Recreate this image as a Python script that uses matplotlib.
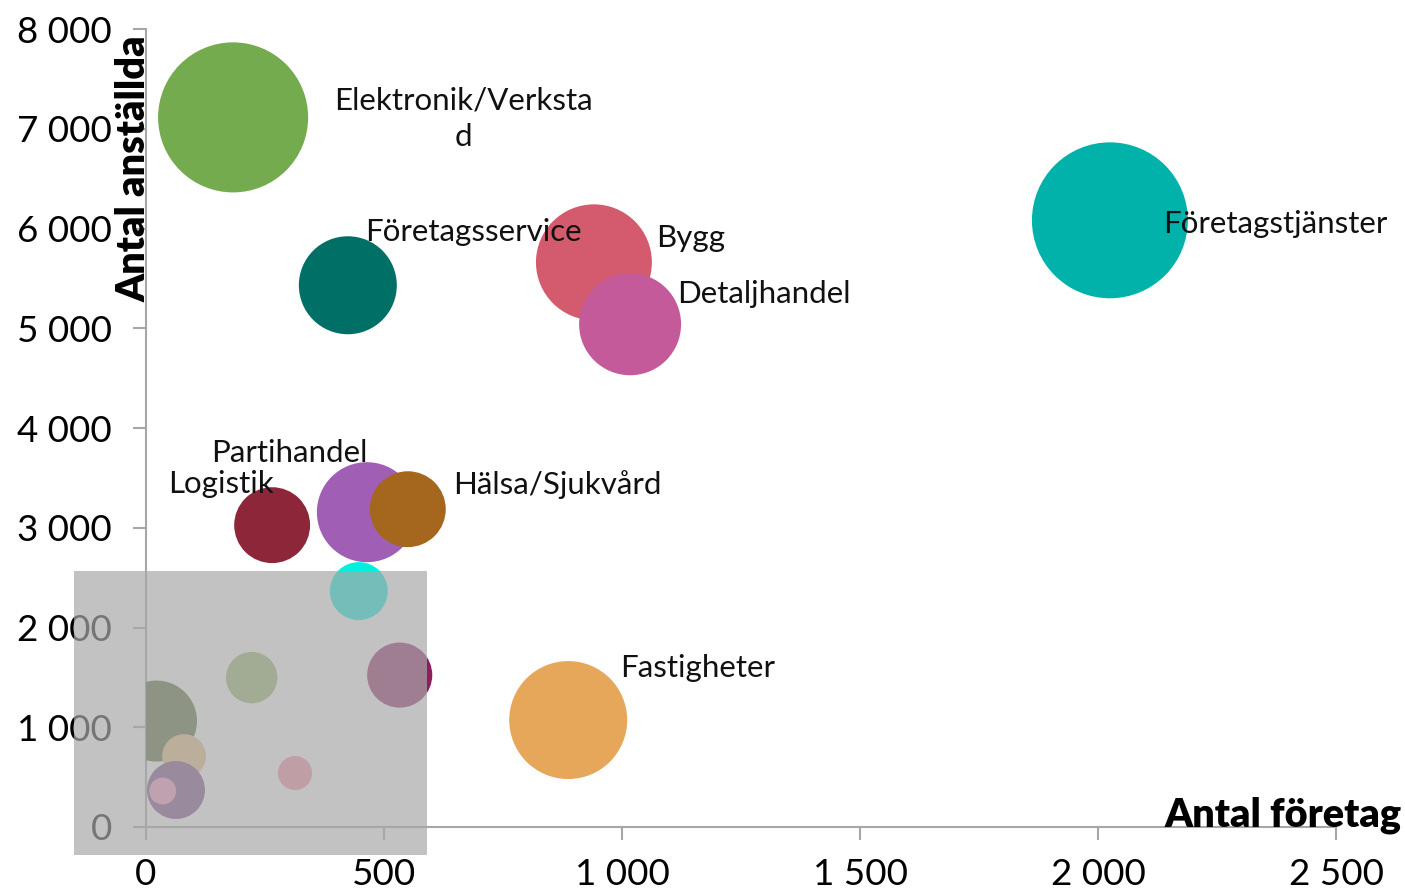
import matplotlib
matplotlib.use("Agg")
import matplotlib.pyplot as plt
from matplotlib.patches import Rectangle
from matplotlib.ticker import FuncFormatter

# ---- data ----
labels = ["Elektronik/Verksta\nd", "Företagsservice", "Bygg", "Detaljhandel",
          "Företagstjänster", "Logistik", "Partihandel", "Hälsa/Sjukvård",
          "Fastigheter", "", "", "", "", "", "", "", ""]
antal_foretag = [183, 424, 941, 1017, 2025, 265, 464, 550, 887,
                 447, 533, 222, 22, 80, 63, 35, 313]
antal_anstallda = [7114, 5431, 5661, 5040, 6082, 3026, 3156, 3186, 1072,
                   2365, 1523, 1498, 1062, 711, 371, 361, 541]
bubble_value = [56.3, 24.0, 33.6, 26.0, 60.8, 14.4, 25.0, 14.4, 34.8,
                8.4, 10.6, 6.6, 16.4, 4.8, 8.4, 1.8, 2.9]
colors = ["#75AB4F", "#006F66", "#D45B6E", "#C55A9A", "#00B2A9", "#8E263A",
          "#A05FB4", "#A5661E", "#E6A75A", "#00F0E0", "#8C1D5E", "#96B464",
          "#50672F", "#E9BE7F", "#784985", "#F793C1", "#F78CA0"]
x_ticks = [0, 500, 1000, 1500, 2000, 2500]
y_ticks = [0, 1000, 2000, 3000, 4000, 5000, 6000, 7000, 8000]

# label offsets in pixels (layout)
offsets = {
    0: (230, -1, "center", "center"),
    1: (17, 44, "left", "baseline"),
    2: (62, 15, "left", "baseline"),
    3: (47, 21, "left", "baseline"),
    4: (53, -13, "left", "baseline"),
    5: (-104, 32, "left", "baseline"),
    6: (-156, 50, "left", "baseline"),
    7: (45, 15, "left", "baseline"),
    8: (52, 43, "left", "baseline"),
}

W, H = 1405, 893
plt.rcParams['font.family'] = ['Lato', 'DejaVu Sans']
fig = plt.figure(figsize=(W / 100, H / 100), dpi=100)
ax = fig.add_axes([146 / W, 1 - 827 / H, (1336 - 146) / W, (827 - 29) / H])

scale = 207.36
ax.scatter(antal_foretag, antal_anstallda, s=[v * scale for v in bubble_value],
           c=colors, linewidths=0, zorder=3)

for i, (dx, dy, ha, va) in offsets.items():
    ax.annotate(labels[i], (antal_foretag[i], antal_anstallda[i]),
                xytext=(dx, dy), textcoords="offset pixels",
                ha=ha, va=va, fontsize=22.5, color="#111111",
                multialignment="center", linespacing=1.38, zorder=5)

ax.set_xlim(0, 2500)
ax.set_ylim(0, 8000)
ax.set_xticks(x_ticks)
ax.set_yticks(y_ticks)
fmt = FuncFormatter(lambda v, p: f"{v:,.0f}".replace(",", " "))
ax.xaxis.set_major_formatter(fmt)
ax.yaxis.set_major_formatter(fmt)

for s in ["top", "right"]:
    ax.spines[s].set_visible(False)
for s in ["left", "bottom"]:
    ax.spines[s].set_color("#A6A6A6")
    ax.spines[s].set_linewidth(1.5)
ax.tick_params(axis="both", direction="out", length=9.5, width=1.5,
               color="#A6A6A6", labelsize=26.5, labelcolor="black")
ax.tick_params(axis="y", pad=15)
ax.tick_params(axis="x", pad=13)

fig.text(146 / W, 1 - 35 / H, "Antal anställda", rotation=90,
         rotation_mode="anchor", ha="right", va="baseline",
         fontsize=28.5, fontweight="heavy", color="black")
fig.text(1402 / W, 1 - 827 / H, "Antal företag", ha="right", va="baseline",
         fontsize=28.5, fontweight="heavy", color="black", zorder=6)

rect = Rectangle((74 / W, 1 - 855 / H), (427 - 74) / W, (855 - 571) / H,
                 transform=fig.transFigure, facecolor="#A8A8A8", alpha=0.7,
                 edgecolor="none", zorder=10)
fig.add_artist(rect)

fig.savefig("out.png", dpi=100)
